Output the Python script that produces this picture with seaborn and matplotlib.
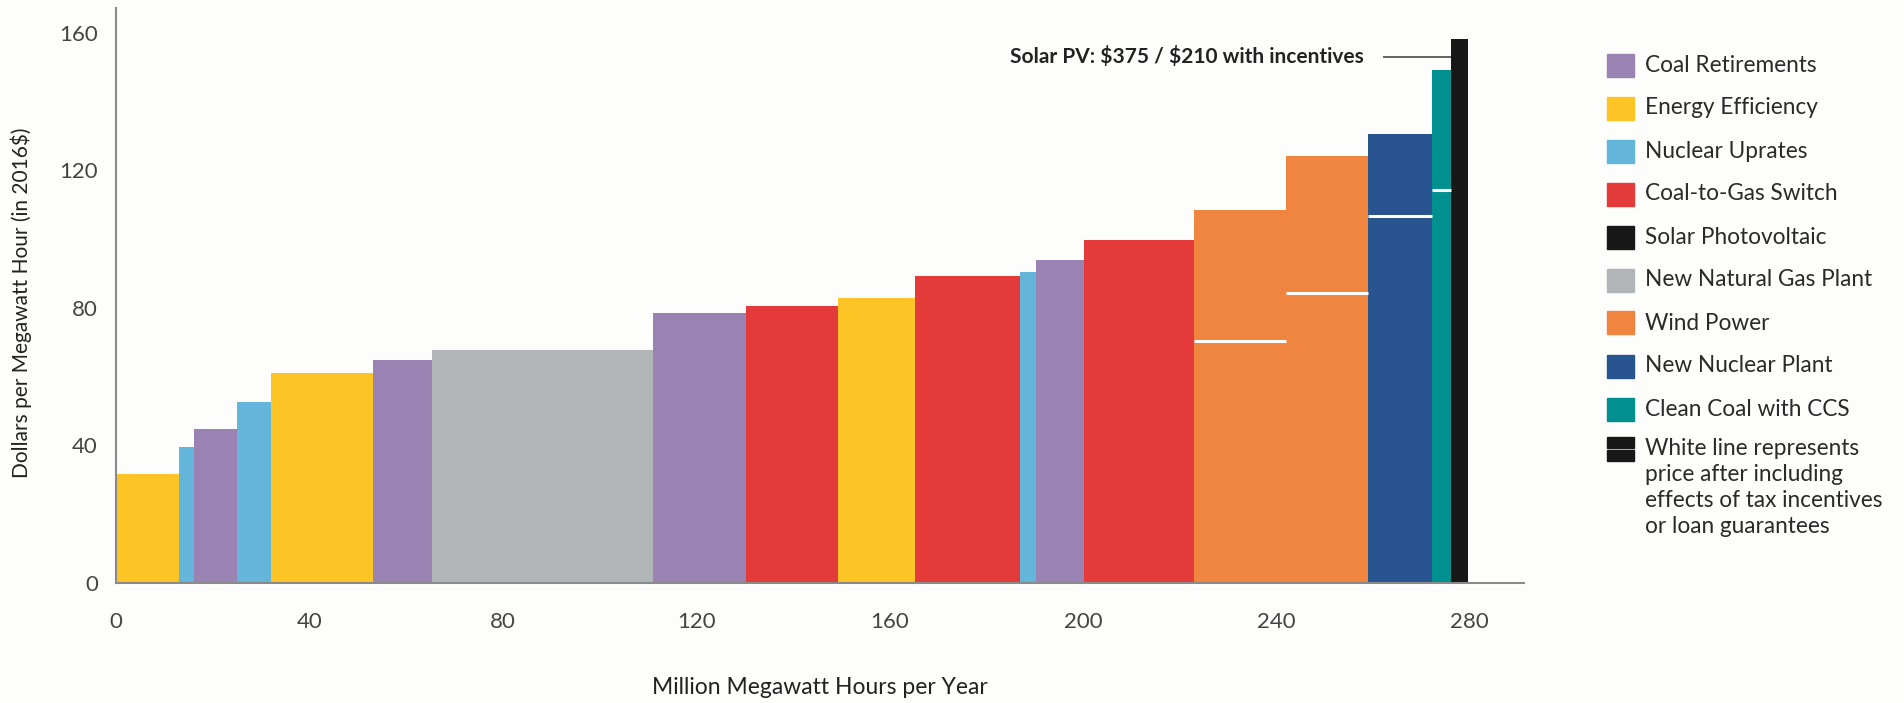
import numpy as np
import pandas as pd
import matplotlib.pyplot as plt
import seaborn as sns
from matplotlib.patches import Rectangle

sns.set_style('white')
plt.rcParams['font.family'] = ['Lato', 'DejaVu Sans']

# supply curve, left to right
tech = ['Energy Efficiency', 'Nuclear Uprates', 'Coal Retirements', 'Nuclear Uprates',
        'Energy Efficiency', 'Coal Retirements', 'New Natural Gas Plant', 'Coal Retirements',
        'Coal-to-Gas Switch', 'Energy Efficiency', 'Coal-to-Gas Switch', 'Nuclear Uprates',
        'Coal Retirements', 'Coal-to-Gas Switch', 'Wind Power', 'Wind Power',
        'New Nuclear Plant', 'Clean Coal with CCS', 'Solar Photovoltaic']
capacity = [13.0, 3.1, 8.9, 7.1, 21.1, 12.2, 45.6, 19.2, 19.2, 15.9,
            21.7, 3.3, 9.8, 22.8, 19.1, 17.0, 13.1, 3.9, 3.7]
price = [31.8, 39.6, 44.9, 52.7, 60.9, 64.8, 67.6, 78.6, 80.4, 82.8,
         89.2, 90.5, 93.8, 99.8, 108.3, 124.2, 130.5, 149.0, 158.0]
incentive_price = [np.nan] * 14 + [70.3, 84.4, 106.7, 114.2, np.nan]

legend_order = ['Coal Retirements', 'Energy Efficiency', 'Nuclear Uprates', 'Coal-to-Gas Switch',
                'Solar Photovoltaic', 'New Natural Gas Plant', 'Wind Power', 'New Nuclear Plant',
                'Clean Coal with CCS']
colors = {'Coal Retirements': '#9a82b2', 'Energy Efficiency': '#fcc425',
          'Nuclear Uprates': '#63b5da', 'Coal-to-Gas Switch': '#e53a3a',
          'Solar Photovoltaic': '#181818', 'New Natural Gas Plant': '#b1b5b8',
          'Wind Power': '#ef853f', 'New Nuclear Plant': '#28548f',
          'Clean Coal with CCS': '#00908f'}
note = 'White line represents\nprice after including\neffects of tax incentives\nor loan guarantees'
solar_note = r'Solar PV: \$375 / \$210 with incentives'

df = pd.DataFrame({'tech': tech, 'capacity': capacity, 'price': price, 'incentive': incentive_price})
df['right'] = df['capacity'].cumsum()
df['left'] = df['right'] - df['capacity']
df['mid'] = (df['left'] + df['right']) / 2
edges = [0.0] + df['right'].round(3).tolist()

bg = '#fdfdfb'
W, H = 1904, 703
fig = plt.figure(figsize=(W / 100, H / 100), dpi=100, facecolor=bg)
ax = fig.add_axes([116 / W, 120 / H, 1408 / W, 574.5 / H])
ax.set_facecolor(bg)

sns.histplot(data=df, x='mid', weights='price', bins=edges, hue='tech', hue_order=legend_order,
             palette=colors, multiple='layer', alpha=1, linewidth=0, legend=False, ax=ax)

# white lines = price with incentives
inc = df.dropna(subset=['incentive'])
ax.hlines(inc['incentive'], inc['left'], inc['right'], color='white', lw=2.2, zorder=5)

solar = df.iloc[-1]
ax.hlines(153, 262, solar['left'], color='#555555', lw=1.3)
ax.text(258, 153, solar_note, ha='right', va='center',
        fontsize=15, fontweight='bold', color='#222222')

ax.set_xlim(0, 291.2)
ax.set_ylim(0, 167)
ax.set_xticks(range(0, 281, 40))
ax.set_yticks(range(0, 161, 40))
ax.tick_params(axis='both', length=0, labelsize=16, labelcolor='#444444')
ax.tick_params(axis='x', pad=21)
ax.tick_params(axis='y', pad=13)
for s in ['top', 'right']:
    ax.spines[s].set_visible(False)
for s in ['left', 'bottom']:
    ax.spines[s].set_color('#8a8a8a')
    ax.spines[s].set_linewidth(1.5)

ax.set_xlabel('Million Megawatt Hours per Year', fontsize=16.5, color='#222222')
ax.set_ylabel('Dollars per Megawatt Hour (in 2016$)', fontsize=15, color='#222222')
ax.xaxis.set_label_coords(0.5, -0.163)
ax.yaxis.set_label_coords(-0.06, 0.487)

# legend drawn by hand in pixel positions
def fx(x):
    return x / W

def fy(y):
    return 1 - y / H

for i, name in enumerate(legend_order):
    yc = 65 + 43 * i
    fig.patches.append(Rectangle((fx(1607), fy(yc + 11.5)), 27 / W, 23 / H,
                                 transform=fig.transFigure, color=colors[name]))
    fig.text(fx(1645), fy(yc), name, fontsize=16.3, va='center', color='#2a2a2a')

fig.patches.append(Rectangle((fx(1607), fy(448)), 27 / W, 11 / H,
                             transform=fig.transFigure, color='#181818'))
fig.patches.append(Rectangle((fx(1607), fy(461)), 27 / W, 11 / H,
                             transform=fig.transFigure, color='#181818'))
fig.text(fx(1645), fy(438), note, fontsize=16.3, va='top', color='#2a2a2a', linespacing=1.3)

fig.savefig('out.png', dpi=100, facecolor=bg)
